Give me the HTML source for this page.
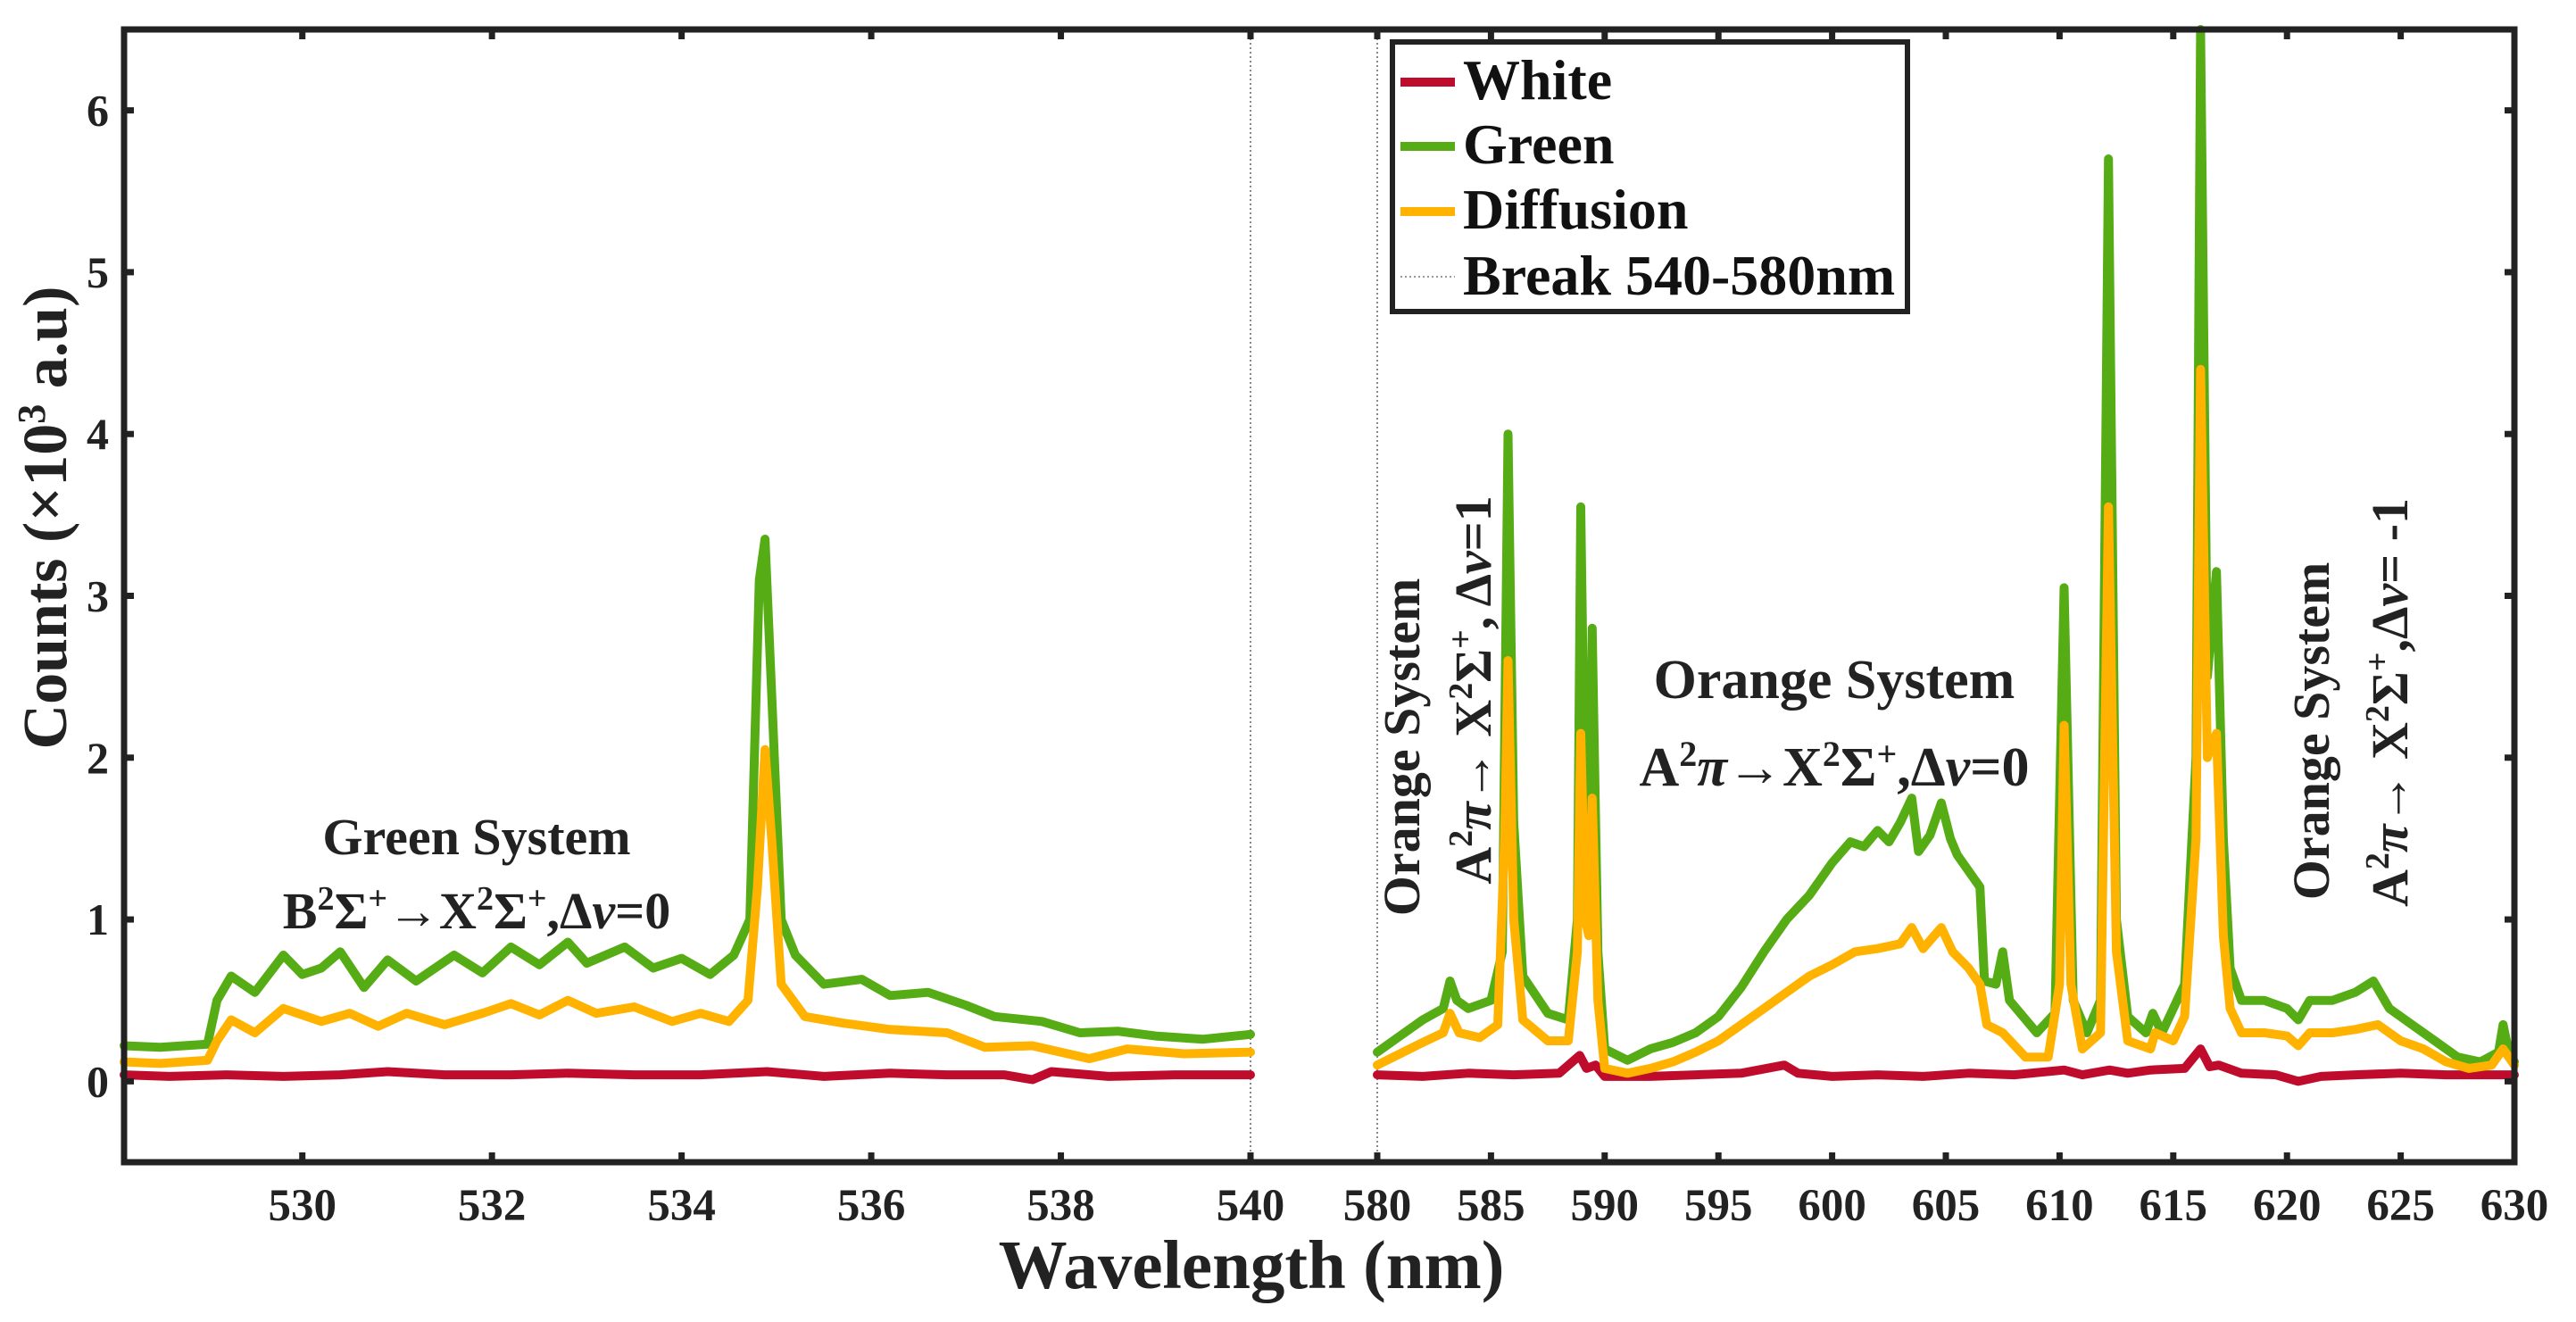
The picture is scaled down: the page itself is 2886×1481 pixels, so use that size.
<!DOCTYPE html>
<html><head><meta charset="utf-8"><style>
html,body{margin:0;padding:0;background:#fff;}
svg{display:block;font-family:"Liberation Serif",serif;}
</style></head><body>
<svg id="chart" width="2886" height="1481" viewBox="0 0 2886 1481" xmlns="http://www.w3.org/2000/svg">
<g id="grid"></g>
<g id="series"></g>
<g id="axes"></g>
<g id="annotations" font-weight="bold" fill="#222">
  <text x="534" y="957" font-size="58" text-anchor="middle">Green System</text>
  <text x="534" y="1040" font-size="58" text-anchor="middle">B<tspan baseline-shift="super" font-size="38">2</tspan>Σ<tspan baseline-shift="super" font-size="38">+</tspan>→X<tspan baseline-shift="super" font-size="38">2</tspan>Σ<tspan baseline-shift="super" font-size="38">+</tspan>,Δ<tspan font-style="italic">ν</tspan>=0</text>
  <text x="2055" y="782" font-size="62" text-anchor="middle">Orange System</text>
  <text x="2055" y="880" font-size="62" text-anchor="middle">A<tspan baseline-shift="super" font-size="40">2</tspan><tspan font-style="italic">π</tspan>→X<tspan baseline-shift="super" font-size="40">2</tspan>Σ<tspan baseline-shift="super" font-size="40">+</tspan>,Δ<tspan font-style="italic">ν</tspan>=0</text>
  <text transform="translate(1590,837) rotate(-90)" font-size="58" text-anchor="middle">Orange System</text>
  <text transform="translate(1670,773) rotate(-90)" font-size="58" text-anchor="middle">A<tspan baseline-shift="super" font-size="38">2</tspan><tspan font-style="italic">π</tspan>→ X<tspan baseline-shift="super" font-size="38">2</tspan>Σ<tspan baseline-shift="super" font-size="38">+</tspan>, Δ<tspan font-style="italic">ν</tspan>=1</text>
  <text transform="translate(2609,819) rotate(-90)" font-size="58" text-anchor="middle">Orange System</text>
  <text transform="translate(2697,787) rotate(-90)" font-size="58" text-anchor="middle">A<tspan baseline-shift="super" font-size="38">2</tspan><tspan font-style="italic">π</tspan>→  X<tspan baseline-shift="super" font-size="38">2</tspan>Σ<tspan baseline-shift="super" font-size="38">+</tspan>,Δ<tspan font-style="italic">ν</tspan>= -1</text>
</g>
<g id="legend">
  <rect x="1560" y="47" width="577" height="302" fill="#fff" stroke="#222" stroke-width="6"/>
  <line x1="1569" y1="92" x2="1630" y2="92" stroke="#c00c2c" stroke-width="10"/>
  <text x="1639" y="111" font-size="64" font-weight="bold" fill="#111">White</text>
  <line x1="1569" y1="164" x2="1630" y2="164" stroke="#56ac14" stroke-width="10"/>
  <text x="1639" y="183" font-size="64" font-weight="bold" fill="#111">Green</text>
  <line x1="1569" y1="237" x2="1630" y2="237" stroke="#ffb300" stroke-width="10"/>
  <text x="1639" y="256" font-size="64" font-weight="bold" fill="#111">Diffusion</text>
  <line x1="1569" y1="310" x2="1630" y2="310" stroke="#999" stroke-width="2" stroke-dasharray="2,3"/>
  <text x="1639" y="330" font-size="64" font-weight="bold" fill="#111">Break 540-580nm</text>
</g>
</svg>
<script>
const whiteData = [[528.12,0.04],[528.6,0.03],[529.2,0.04],[529.8,0.03],[530.4,0.04],[530.9,0.06],[531.5,0.04],[532.2,0.04],[532.8,0.05],[533.5,0.04],[534.2,0.04],[534.9,0.06],[535.5,0.03],[536.2,0.05],[536.8,0.04],[537.4,0.04],[537.7,0.01],[537.9,0.06],[538.5,0.03],[539.2,0.04],[540,0.04],
[580,0.04],[582,0.03],[584,0.05],[586,0.04],[588,0.05],[588.9,0.16],[589.2,0.08],[589.6,0.1],[590,0.03],[592,0.03],[594,0.04],[596,0.05],[597.9,0.1],[598.5,0.05],[600,0.03],[602,0.04],[604,0.03],[606,0.05],[608,0.04],[610.2,0.07],[611,0.04],[612.2,0.07],[613,0.05],[614,0.07],[615.5,0.08],[616.2,0.2],[616.6,0.09],[617,0.1],[618,0.05],[619.5,0.04],[620.5,0.0],[621.5,0.03],[623,0.04],[625,0.05],[627,0.04],[630,0.04]];
const greenData = [[528.12,0.22],[528.5,0.21],[529.0,0.23],[529.1,0.5],[529.25,0.65],[529.5,0.55],[529.8,0.78],[530.0,0.66],[530.2,0.7],[530.4,0.8],[530.65,0.58],[530.9,0.75],[531.2,0.62],[531.6,0.78],[531.9,0.67],[532.2,0.83],[532.5,0.72],[532.8,0.86],[533.0,0.73],[533.4,0.83],[533.7,0.7],[534.0,0.76],[534.3,0.66],[534.55,0.78],[534.72,1.0],[534.82,3.1],[534.88,3.35],[534.95,2.4],[535.05,1.0],[535.2,0.78],[535.5,0.6],[535.9,0.63],[536.2,0.53],[536.6,0.55],[537.0,0.47],[537.3,0.4],[537.8,0.37],[538.2,0.3],[538.6,0.31],[539.0,0.28],[539.5,0.26],[540,0.29],
[580,0.18],[581,0.28],[582,0.38],[582.9,0.45],[583.2,0.62],[583.5,0.5],[584,0.45],[585,0.5],[585.5,0.8],[585.75,4.0],[586.0,1.6],[586.4,0.65],[587.5,0.42],[588.4,0.38],[588.8,1.0],[588.95,3.55],[589.15,1.5],[589.32,1.2],[589.45,2.8],[589.7,0.8],[590,0.2],[591,0.13],[592,0.2],[593,0.24],[594,0.3],[595,0.4],[596,0.58],[597,0.8],[598,1.0],[599,1.15],[600,1.35],[600.8,1.48],[601.4,1.45],[602,1.55],[602.5,1.48],[603,1.6],[603.5,1.75],[603.8,1.42],[604.3,1.52],[604.8,1.72],[605.2,1.5],[605.5,1.4],[606,1.3],[606.5,1.2],[606.7,0.62],[607.2,0.6],[607.5,0.8],[607.8,0.5],[609,0.3],[609.8,0.42],[610.2,3.05],[610.6,0.5],[611.2,0.3],[611.8,0.5],[612.15,5.7],[612.5,1.0],[613,0.4],[613.8,0.3],[614.1,0.42],[614.5,0.3],[615.5,0.6],[616.0,2.0],[616.2,6.5],[616.5,2.5],[616.9,3.15],[617.2,1.5],[617.5,0.7],[618,0.5],[619,0.5],[620,0.45],[620.5,0.38],[621,0.5],[622,0.5],[623,0.55],[623.8,0.62],[624.5,0.45],[625.5,0.35],[626.5,0.25],[627.5,0.15],[628.5,0.12],[629.3,0.18],[629.5,0.35],[629.8,0.15],[630,0.12]];
const diffusionData = [[528.12,0.12],[528.5,0.11],[529.0,0.13],[529.1,0.25],[529.25,0.38],[529.5,0.3],[529.8,0.45],[530.2,0.37],[530.5,0.42],[530.8,0.34],[531.1,0.42],[531.5,0.35],[531.9,0.42],[532.2,0.48],[532.5,0.41],[532.8,0.5],[533.1,0.42],[533.5,0.46],[533.9,0.37],[534.2,0.42],[534.5,0.37],[534.7,0.5],[534.8,1.2],[534.88,2.05],[534.95,1.5],[535.05,0.6],[535.3,0.4],[535.7,0.36],[536.2,0.32],[536.8,0.3],[537.2,0.21],[537.7,0.22],[538.3,0.14],[538.7,0.2],[539.3,0.17],[540,0.18],
[580,0.1],[581,0.17],[582,0.24],[582.9,0.3],[583.2,0.42],[583.6,0.3],[584.5,0.27],[585.3,0.35],[585.6,1.5],[585.75,2.6],[586.0,1.0],[586.4,0.38],[587.5,0.25],[588.4,0.25],[588.8,0.8],[588.95,2.15],[589.15,1.0],[589.3,0.9],[589.45,1.75],[589.7,0.5],[590,0.08],[591,0.05],[592,0.08],[593,0.12],[594,0.18],[595,0.25],[596,0.35],[597,0.45],[598,0.55],[599,0.65],[600,0.72],[601,0.8],[602,0.82],[603,0.85],[603.5,0.95],[604,0.82],[604.8,0.95],[605.3,0.8],[606,0.7],[606.5,0.6],[606.8,0.35],[607.5,0.3],[608.5,0.15],[609.5,0.15],[610.0,0.6],[610.2,2.2],[610.5,0.6],[611,0.2],[611.8,0.3],[612.15,3.55],[612.5,0.8],[613,0.25],[614,0.2],[614.2,0.3],[615,0.25],[615.5,0.4],[616,1.5],[616.2,4.4],[616.5,2.0],[616.9,2.15],[617.2,0.9],[617.5,0.45],[618,0.3],[619,0.3],[620,0.28],[620.5,0.22],[621,0.3],[622,0.3],[623,0.32],[624,0.35],[625,0.25],[626,0.2],[627,0.12],[628,0.08],[629,0.1],[629.5,0.2],[630,0.1]];
const yTicks = [0,1,2,3,4,5,6];
const xTicksLeft = [530,532,534,536,538,540];
const xTicksRight = [580,585,590,595,600,605,610,615,620,625,630];

const NS = "http://www.w3.org/2000/svg";
const PL = 139, PR = 2817, PT = 33, PB = 1302;
const yMin = -0.5, yMax = 6.5;
function yScale(v){ return PB - (v - yMin) / (yMax - yMin) * (PB - PT); }
function xScale(w){
  if (w <= 540) return 139 + (w - 528.12) * (1401 - 139) / (540 - 528.12);
  return 1543 + (w - 580) * (2817 - 1543) / 50;
}
function mk(tag, attrs, parent){
  const el = document.createElementNS(NS, tag);
  for (const k in attrs) el.setAttribute(k, attrs[k]);
  parent.appendChild(el);
  return el;
}
const seriesG = document.getElementById('series');
const axesG = document.getElementById('axes');
const gridG = document.getElementById('grid');

[540, 580].forEach(w => {
  const l = mk('line', {x1:xScale(w), x2:xScale(w), y1:PT, y2:PB, stroke:'#888', 'stroke-width':2, 'stroke-dasharray':'2,3'}, gridG);
  
  
});

function drawSeries(data, color, name){
  const segs = [data.filter(d => d[0] <= 540), data.filter(d => d[0] >= 580)];
  segs.forEach((seg, i) => {
    const pts = seg.map(d => xScale(d[0]).toFixed(1) + ',' + yScale(d[1]).toFixed(1)).join(' ');
    const p = mk('polyline', {points:pts, fill:'none', stroke:color, 'stroke-width':10, 'stroke-linejoin':'round', 'stroke-linecap':'round'}, seriesG);
    
    
  });
}
drawSeries(whiteData, '#c00c2c', 'white');
drawSeries(greenData, '#56ac14', 'green');
drawSeries(diffusionData, '#ffb300', 'diffusion');

const frame = mk('rect', {x:PL, y:PT, width:PR-PL, height:PB-PT, fill:'none', stroke:'#222', 'stroke-width':7}, axesG);



yTicks.forEach(v => {
  const y = yScale(v);
  mk('line', {x1:PL, x2:PL+11, y1:y, y2:y, stroke:'#222', 'stroke-width':7}, axesG);
  mk('line', {x1:PR, x2:PR-11, y1:y, y2:y, stroke:'#222', 'stroke-width':7}, axesG);
  const t = mk('text', {x:122, y:y+17, 'text-anchor':'end', 'font-size':50, 'font-weight':'bold', fill:'#222'}, axesG);
  t.textContent = v;
  
  
});
xTicksLeft.concat(xTicksRight).forEach(w => {
  const x = xScale(w);
  mk('line', {x1:x, x2:x, y1:PB, y2:PB-11, stroke:'#222', 'stroke-width':7}, axesG);
  mk('line', {x1:x, x2:x, y1:PT, y2:PT+11, stroke:'#222', 'stroke-width':7}, axesG);
  const t = mk('text', {x:x, y:1367, 'text-anchor':'middle', 'font-size':51, 'font-weight':'bold', fill:'#222'}, axesG);
  t.textContent = w;
  
  
});
const xt = mk('text', {x:1402, y:1443, 'text-anchor':'middle', 'font-size':77, 'font-weight':'bold', fill:'#222'}, axesG);
xt.textContent = 'Wavelength (nm)';


const yt = mk('text', {transform:'translate(74,580) rotate(-90)', 'text-anchor':'middle', 'font-size':70, 'font-weight':'bold', fill:'#222'}, axesG);
yt.innerHTML = 'Counts (×10<tspan baseline-shift="super" font-size="44">3</tspan> a.u)';


</script>
</body></html>
